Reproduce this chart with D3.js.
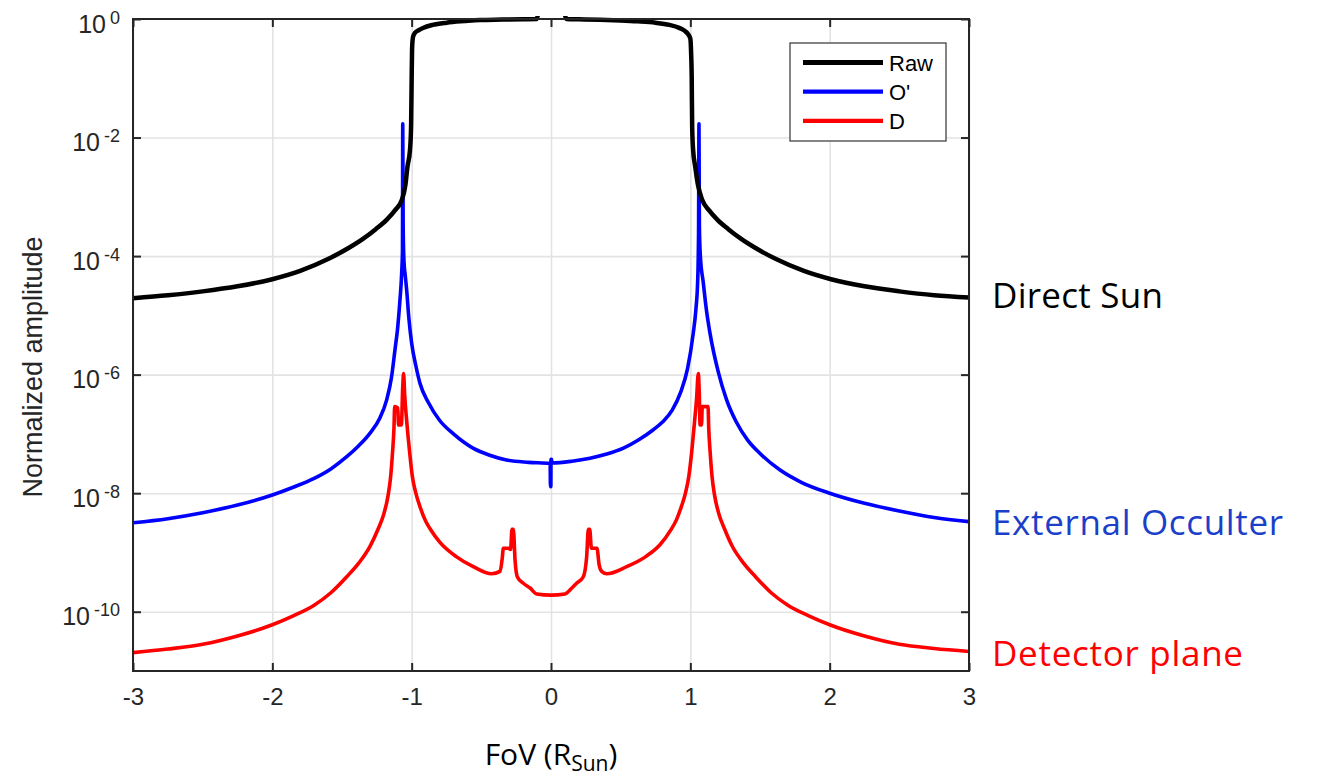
<!DOCTYPE html>
<html>
<head>
<meta charset="utf-8">
<script src="https://cdn.jsdelivr.net/npm/d3@7"></script>
<style>
  html, body { margin: 0; padding: 0; background: #fff; }
  svg { display: block; }
</style>
</head>
<body>
<svg id="chart" width="1317" height="778"></svg>
<script>
// ---- data: field of view (solar radii) vs log10 of normalized amplitude ----
const xTicks = [-3, -2, -1, 0, 1, 2, 3];
const yTickExps = [0, -2, -4, -6, -8, -10];

// Raw (direct Sun)
const rawX = [-3.0, -2.75, -2.5, -2.25, -2.0, -1.8, -1.6, -1.45, -1.35, -1.26, -1.18, -1.12, -1.07, -1.045, -1.03, -1.012, -1.004, -1.0, -0.997, -0.99, -0.975, -0.95, -0.919, -0.85, -0.749, -0.62, -0.51, -0.35, -0.2, -0.103, -0.085,
  0.0,
  0.09, 0.11, 0.2, 0.35, 0.5, 0.62, 0.75, 0.85, 0.92, 0.96, 0.985, 1.0, 1.006, 1.01, 1.013, 1.02, 1.035, 1.055, 1.085, 1.135, 1.195, 1.275, 1.365, 1.465, 1.615, 1.815, 2.01, 2.25, 2.5, 2.75, 3.0];
const rawExp = [-4.71, -4.66, -4.595, -4.51, -4.39, -4.25, -4.05, -3.86, -3.71, -3.55, -3.39, -3.23, -3.05, -2.8, -2.49, -2.21, -1.8, -1.0, -0.5, -0.30, -0.23, -0.19, -0.152, -0.1, -0.062, -0.035, -0.017, -0.01, -0.004, 0.0, 0.15,
  0.18,
  0.15, 0.0, -0.006, -0.014, -0.026, -0.04, -0.063, -0.1, -0.15, -0.2, -0.26, -0.33, -0.6, -1.0, -1.8, -2.21, -2.49, -2.8, -3.05, -3.23, -3.39, -3.55, -3.71, -3.86, -4.05, -4.25, -4.39, -4.51, -4.595, -4.66, -4.70];

// O' (external occulter)
const occX = [-3.0, -2.75, -2.5, -2.25, -2.0, -1.85, -1.7, -1.58, -1.466, -1.38, -1.3, -1.23, -1.18, -1.145, -1.12, -1.1, -1.084, -1.072, -1.066, -1.064, -1.061, -1.055, -1.045, -1.036, -1.02, -1.0, -0.97, -0.94, -0.88, -0.8, -0.7, -0.56, -0.44, -0.32, -0.16, -0.006, -0.004, -0.001, 0.0, 0.004, 0.006, 0.15, 0.28, 0.4, 0.52, 0.63, 0.734, 0.8, 0.87, 0.93, 0.98, 1.021, 1.04, 1.053, 1.059, 1.062, 1.065, 1.072, 1.093, 1.115, 1.141, 1.2, 1.261, 1.33, 1.41, 1.5, 1.644, 1.8, 2.0, 2.25, 2.5, 2.75, 3.0];
const occExp = [-8.50, -8.43, -8.33, -8.2, -8.03, -7.9, -7.75, -7.59, -7.385, -7.2, -6.99, -6.74, -6.43, -6.05, -5.585, -5.2, -4.74, -4.3, -3.9, -1.77, -3.5, -4.1, -4.35, -4.57, -5.05, -5.47, -5.85, -6.15, -6.47, -6.77, -7.0, -7.24, -7.36, -7.44, -7.48, -7.5, -7.89, -7.89, -7.43, -7.43, -7.49, -7.46, -7.41, -7.34, -7.24, -7.1, -6.93, -6.8, -6.6, -6.3, -5.9, -5.3, -4.9, -4.4, -3.6, -1.77, -3.5, -4.0, -4.45, -4.9, -5.30, -5.95, -6.43, -6.8, -7.1, -7.33, -7.61, -7.82, -8.0, -8.17, -8.3, -8.41, -8.48];

// D (detector plane)
const detX = [-3.0, -2.75, -2.5, -2.25, -2.0, -1.85, -1.7, -1.58, -1.466, -1.38, -1.3, -1.24, -1.2, -1.17, -1.15, -1.137, -1.127, -1.122, -1.1, -1.094, -1.074, -1.064, -1.058, -1.05, -1.035, -1.015, -0.995, -0.97, -0.94, -0.9, -0.868, -0.797, -0.68, -0.558, -0.426, -0.366, -0.35, -0.342, -0.306, -0.29, -0.28, -0.27, -0.258, -0.242, -0.199, -0.15, -0.103, 0.0, 0.1, 0.15, 0.184, 0.232, 0.256, 0.268, 0.278, 0.29, 0.33, 0.345, 0.364, 0.4, 0.543, 0.68, 0.782, 0.86, 0.9, 0.935, 0.965, 0.99, 1.01, 1.03, 1.045, 1.057, 1.064, 1.07, 1.08, 1.086, 1.127, 1.132, 1.142, 1.155, 1.175, 1.205, 1.245, 1.302, 1.382, 1.468, 1.58, 1.7, 1.85, 2.0, 2.25, 2.5, 2.75, 3.0];
const detExp = [-10.69, -10.63, -10.55, -10.41, -10.22, -10.07, -9.89, -9.68, -9.41, -9.18, -8.90, -8.60, -8.35, -8.05, -7.7, -7.3, -6.9, -6.54, -6.56, -6.85, -6.85, -6.2, -5.98, -6.35, -6.8, -7.3, -7.72, -8.0, -8.23, -8.47, -8.6, -8.83, -9.07, -9.24, -9.36, -9.32, -9.1, -8.93, -8.93, -8.95, -8.61, -8.61, -9.13, -9.41, -9.52, -9.6, -9.70, -9.72, -9.70, -9.6, -9.52, -9.41, -9.07, -8.61, -8.61, -8.93, -8.93, -9.2, -9.32, -9.36, -9.24, -9.07, -8.87, -8.62, -8.45, -8.23, -8.0, -7.7, -7.3, -6.8, -6.4, -5.98, -6.3, -6.85, -6.85, -6.54, -6.54, -6.9, -7.3, -7.7, -8.05, -8.35, -8.60, -8.90, -9.18, -9.41, -9.68, -9.89, -10.07, -10.22, -10.41, -10.55, -10.62, -10.67];

const seriesNames = ["Raw", "O'", "D"];
const seriesColors = ["#000000", "#0000ff", "#ff0000"];
const seriesWidths = [4.5, 3.6, 3.6];
const seriesX = [rawX, occX, detX];
const seriesExp = [rawExp, occExp, detExp];

const annotations = ["Direct Sun", "External Occulter", "Detector plane"];
const annotationColors = ["#000000", "#1b3fc9", "#ff0000"];

// ---- layout ----
const svg = d3.select("#chart");
const L = 133, R = 969, T = 19, B = 671;
const x = d3.scaleLinear().domain([-3, 3]).range([L, R]);
const y = d3.scaleLog().domain([1e-11, 1]).range([B, T]);
const yTickVals = yTickExps.map(e => Math.pow(10, e));
const axisFont = "'Liberation Sans', Arial, Helvetica, sans-serif";
const textColor = "#262626";

// grid
const grid = svg.append("g");
grid.append("g")
  .attr("transform", `translate(0,${B})`)
  .call(d3.axisBottom(x).tickValues(xTicks).tickSize(-(B - T)).tickFormat(""))
  .call(g => g.select(".domain").remove())
  .call(g => g.selectAll("line").attr("stroke", "#e3e3e3").attr("stroke-width", 1.6));
grid.append("g")
  .attr("transform", `translate(${L},0)`)
  .call(d3.axisLeft(y).tickValues(yTickVals.filter(v => v < 1)).tickSize(-(R - L)).tickFormat(""))
  .call(g => g.select(".domain").remove())
  .call(g => g.selectAll("line").attr("stroke", "#e3e3e3").attr("stroke-width", 1.6));

// curves
svg.append("clipPath").attr("id", "plotClip")
  .append("rect").attr("x", L - 4).attr("y", T - 3).attr("width", R - L + 8).attr("height", B - T + 3);

const line = d3.line()
  .x(d => x(d[0]))
  .y(d => y(Math.pow(10, d[1])))
  .curve(d3.curveMonotoneX);

const curves = svg.append("g").attr("clip-path", "url(#plotClip)");
[2, 1, 0].forEach(i => {
  const pts = seriesX[i].map((v, k) => [v, seriesExp[i][k]]);
  curves.append("path")
    .datum(pts)
    .attr("d", line)
    .attr("fill", "none")
    .attr("stroke", seriesColors[i])
    .attr("stroke-width", seriesWidths[i])
    .attr("stroke-linejoin", "round");
});

// frame and inward ticks on all four sides
const axisStyle = g => {
  g.select(".domain").remove();
  g.selectAll(".tick line").attr("stroke", "#262626").attr("stroke-width", 2);
};
const xb = svg.append("g").attr("transform", `translate(0,${B})`)
  .call(d3.axisBottom(x).tickValues(xTicks).tickSizeInner(-8).tickSizeOuter(0).tickPadding(17).tickFormat(d => String(d)))
  .call(axisStyle);
xb.selectAll(".tick text")
  .attr("font-family", axisFont).attr("font-size", 24).attr("fill", textColor);

svg.append("g").attr("transform", `translate(0,${T})`)
  .call(d3.axisTop(x).tickValues(xTicks).tickSizeInner(-8).tickSizeOuter(0).tickFormat(""))
  .call(axisStyle);
svg.append("g").attr("transform", `translate(${R},0)`)
  .call(d3.axisRight(y).tickValues(yTickVals).tickSizeInner(-8).tickSizeOuter(0).tickFormat(""))
  .call(axisStyle);
const yl = svg.append("g").attr("transform", `translate(${L},0)`)
  .call(d3.axisLeft(y).tickValues(yTickVals).tickSizeInner(-8).tickSizeOuter(0).tickFormat(""))
  .call(axisStyle);

yl.selectAll(".tick").each(function(v) {
  const e = Math.round(Math.log10(v));
  const t = d3.select(this).append("text")
    .attr("x", -13).attr("y", 13)
    .attr("text-anchor", "end")
    .attr("font-family", axisFont).attr("fill", textColor);
  t.append("tspan").attr("font-size", 25).text("10");
  t.append("tspan").attr("font-size", 18).attr("dx", 4).attr("dy", -9).text(String(e));
});

svg.append("rect")
  .attr("x", L).attr("y", T).attr("width", R - L).attr("height", B - T)
  .attr("fill", "none").attr("stroke", "#262626").attr("stroke-width", 2);

// axis titles
svg.append("text")
  .attr("transform", `translate(42,367) rotate(-90)`)
  .attr("text-anchor", "middle")
  .attr("font-family", axisFont).attr("font-size", 27).attr("fill", textColor)
  .text("Normalized amplitude");

const xt = svg.append("text")
  .attr("x", 551).attr("y", 765)
  .attr("text-anchor", "middle")
  .attr("font-family", "'Open Sans', sans-serif").attr("font-size", 30).attr("fill", "#000");
xt.append("tspan").text("FoV (R");
xt.append("tspan").attr("font-size", 21).attr("dy", 6).text("Sun");
xt.append("tspan").attr("dy", -6).text(")");

// legend
const lg = svg.append("g");
lg.append("rect").attr("x", 790).attr("y", 43).attr("width", 156).attr("height", 98)
  .attr("fill", "#fff").attr("stroke", "#333").attr("stroke-width", 1.2);
seriesNames.forEach((name, i) => {
  const yy = 62.5 + i * 29.2;
  lg.append("line").attr("x1", 803).attr("x2", 883).attr("y1", yy).attr("y2", yy)
    .attr("stroke", seriesColors[i]).attr("stroke-width", i === 0 ? 5 : 4.2);
  lg.append("text").attr("x", 889).attr("y", yy + 8.3)
    .attr("font-family", axisFont).attr("font-size", 22).attr("fill", "#000")
    .text(name);
});

// right-hand annotations
const annY = [308, 535, 666];
const annWidth = [171, 291, 251];
annotations.forEach((a, i) => {
  svg.append("text")
    .attr("x", 992).attr("y", annY[i])
    .attr("font-family", "'Open Sans', sans-serif").attr("font-size", 35)
    .attr("textLength", annWidth[i]).attr("lengthAdjust", "spacing")
    .attr("fill", annotationColors[i])
    .text(a);
});
</script>
</body>
</html>
